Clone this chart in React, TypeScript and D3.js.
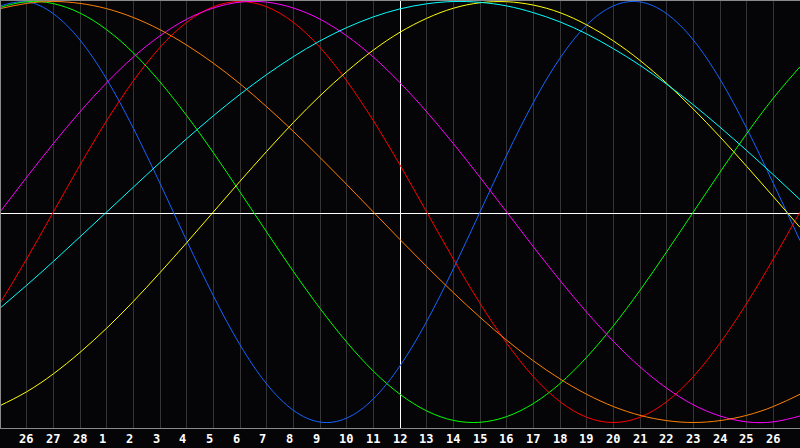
import React from "react";
import * as d3 from "d3";

// Day labels at the grid lines (index 1..29); days 0..30 span the plot
const dayLabels = ["26", "27", "28", "1", "2", "3", "4", "5", "6", "7", "8", "9", "10", "11", "12", "13", "14", "15", "16", "17", "18", "19", "20", "21", "22", "23", "24", "25", "26"];

// Values (percent) for each day 0..30
const physical = [97.9, 99.8, 94.2, 81.7, 63.1, 39.8, 13.6, -13.6, -39.8, -63.1, -81.7, -94.2, -99.8, -97.9, -88.8, -73.1, -52.0, -27.0, 0, 27.0, 52.0, 73.1, 88.8, 97.9, 99.8, 94.2, 81.7, 63.1, 39.8, 13.6, -13.6];
const emotional = [-43.4, -22.3, 0, 22.3, 43.4, 62.3, 78.2, 90.1, 97.5, 100, 97.5, 90.1, 78.2, 62.3, 43.4, 22.3, 0, -22.3, -43.4, -62.3, -78.2, -90.1, -97.5, -100, -97.5, -90.1, -78.2, -62.3, -43.4, -22.3, 0];
const intellectual = [97.2, 99.9, 99.0, 94.5, 86.6, 75.6, 61.8, 45.8, 28.2, 9.5, -9.5, -28.2, -45.8, -61.8, -75.6, -86.6, -94.5, -99.0, -99.9, -97.2, -91.0, -81.5, -69.0, -54.1, -37.2, -18.9, 0, 18.9, 37.2, 54.1, 69.0];
const intuitive = [0, 16.5, 32.5, 47.6, 61.4, 73.6, 83.7, 91.6, 96.9, 99.7, 99.7, 96.9, 91.6, 83.7, 73.6, 61.4, 47.6, 32.5, 16.5, 0, -16.5, -32.5, -47.6, -61.4, -73.6, -83.7, -91.6, -96.9, -99.7, -99.7, -96.9];
const aesthetic = [-92.0, -85.4, -76.9, -66.7, -55.2, -42.5, -28.8, -14.6, 0, 14.6, 28.8, 42.5, 55.2, 66.7, 76.9, 85.4, 92.0, 96.8, 99.4, 99.9, 98.3, 94.7, 88.9, 81.3, 72.0, 61.1, 48.9, 35.7, 21.7, 7.3, -7.3];
const awareness = [96.6, 99.1, 100, 99.1, 96.6, 92.4, 86.6, 79.3, 70.7, 60.9, 50.0, 38.3, 25.9, 13.1, 0, -13.1, -25.9, -38.3, -50.0, -60.9, -70.7, -79.3, -86.6, -92.4, -96.6, -99.1, -100, -99.1, -96.6, -92.4, -86.6];
const spiritual = [-45.7, -34.8, -23.5, -11.8, 0, 11.8, 23.5, 34.8, 45.7, 55.9, 65.3, 73.8, 81.3, 87.6, 92.7, 96.5, 98.9, 100.0, 99.6, 97.9, 94.7, 90.3, 84.6, 77.6, 69.7, 60.7, 50.9, 40.3, 29.2, 17.7, 5.9];

const seriesValues = [physical, emotional, intellectual, intuitive, aesthetic, awareness, spiritual];
const seriesColors = ["#1464ff", "#ff0000", "#00ff00", "#ff00ff", "#ffff00", "#ff8000", "#00ffff"];

const W = 800;
const H = 448;
const PLOT_BOTTOM = 428;
const MID = 212;
const AMP = 210.5;
const TODAY_INDEX = 15;

export default function App() {
  const x = d3.scaleLinear().domain([0, 30]).range([0, W]);
  const y = d3.scaleLinear().domain([-100, 100]).range([MID + AMP, MID - AMP]);
  const line = d3
    .line<number>()
    .x((_, i) => x(i))
    .y((v) => y(v))
    .curve(d3.curveNatural);

  const gridIdx = d3.range(1, 30);

  return (
    <svg
      width={W}
      height={H}
      style={{ position: "absolute", left: 0, top: 0, display: "block", background: "#050507" }}
    >
      <rect x={0} y={0} width={W} height={H} fill="#050507" />
      {gridIdx.map((i) => (
        <line
          key={"g" + i}
          x1={Math.floor(x(i)) + 0.5}
          x2={Math.floor(x(i)) + 0.5}
          y1={0}
          y2={PLOT_BOTTOM}
          stroke={i === TODAY_INDEX ? "#ffffff" : "#343434"}
          strokeWidth={1}
          shapeRendering="crispEdges"
        />
      ))}
      <line x1={0} x2={W} y1={213.5} y2={213.5} stroke="#ffffff" strokeWidth={1} shapeRendering="crispEdges" />
      {seriesValues.map((vals, si) => (
        <path key={"s" + si} d={line(vals) || ""} fill="none" stroke={seriesColors[si]} strokeWidth={1} />
      ))}
      {/* frame */}
      <line x1={0} x2={W} y1={0.5} y2={0.5} stroke="#8a8a8a" strokeWidth={1} shapeRendering="crispEdges" />
      <line x1={0.5} x2={0.5} y1={0} y2={PLOT_BOTTOM} stroke="#8a8a8a" strokeWidth={1} shapeRendering="crispEdges" />
      <line x1={0} x2={W} y1={PLOT_BOTTOM + 0.5} y2={PLOT_BOTTOM + 0.5} stroke="#8a8a8a" strokeWidth={1} shapeRendering="crispEdges" />
      {gridIdx.map((i, k) => (
        <text
          key={"t" + i}
          x={Math.floor(x(i)) - 7}
          y={443}
          fill="#ffffff"
          fontFamily="'DejaVu Sans Mono', monospace"
          fontWeight="bold"
          fontSize={12}
        >
          {dayLabels[k]}
        </text>
      ))}
    </svg>
  );
}
